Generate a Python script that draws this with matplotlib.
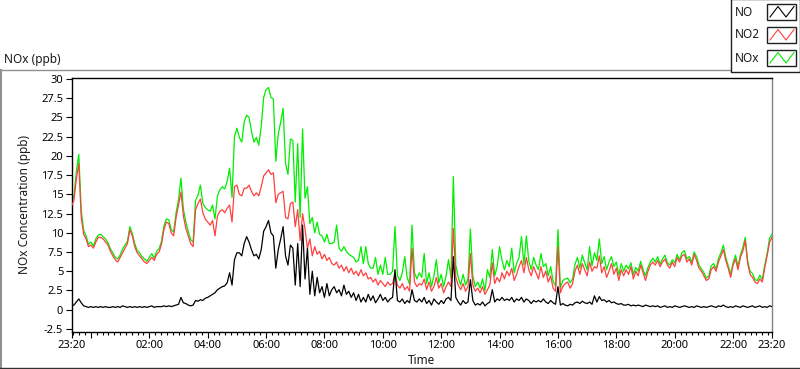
import numpy as np
import matplotlib
matplotlib.use("Agg")
import matplotlib.pyplot as plt
from matplotlib.lines import Line2D
from matplotlib.patches import Rectangle
from matplotlib.ticker import FixedLocator, FixedFormatter

plt.rcParams['font.family'] = ['Noto Sans', 'DejaVu Sans']

# ---------------- data (5-minute samples, starting 23:20) ----------------
step_min = 5
no_vals = [
    0.5, 0.6, 1.0, 1.4, 0.9, 0.5, 0.4, 0.3, 0.4, 0.3, 0.4, 0.3,
    0.4, 0.3, 0.4, 0.3, 0.3, 0.4, 0.3, 0.4, 0.3, 0.5, 0.4, 0.3,
    0.4, 0.3, 0.4, 0.3, 0.4, 0.3, 0.4, 0.3, 0.4, 0.5, 0.3, 0.4,
    0.4, 0.4, 0.5, 0.4, 0.5, 0.4, 0.5, 0.6, 0.7, 1.6, 0.9, 0.8,
    0.6, 0.5, 0.6, 1.2, 1.1, 1.3, 1.2, 1.5, 1.6, 1.8, 2.0, 2.2,
    2.6, 2.8, 3.0, 3.1, 3.5, 4.8, 3.2, 6.5, 7.4, 7.4, 7.0, 8.6,
    9.5, 8.8, 7.8, 7.0, 7.2, 6.6, 7.8, 10.2, 10.8, 11.6, 10.0, 9.6,
    5.4, 7.8, 9.2, 10.8, 7.0, 5.8, 8.4, 8.0, 3.2, 8.6, 3.0, 11.0,
    4.0, 8.0, 2.0, 5.0, 1.8, 4.2, 2.2, 3.0, 1.6, 3.4, 1.8, 2.6,
    3.0, 2.2, 2.6, 1.8, 3.2, 2.0, 2.4, 1.6, 2.2, 1.2, 2.0, 1.0,
    1.6, 1.0, 2.0, 1.2, 1.8, 0.9, 1.4, 2.0, 1.2, 1.6, 1.0, 1.4,
    1.6, 5.2, 1.2, 1.0, 1.4, 0.8, 1.2, 0.9, 2.6, 1.2, 1.0, 1.4,
    1.0, 1.6, 0.8, 1.2, 0.6, 1.4, 1.0, 0.7, 1.2, 0.8, 1.4, 1.6,
    1.2, 6.9, 1.6, 1.0, 0.6, 1.2, 0.8, 1.0, 3.9, 1.2, 0.6, 0.8,
    0.6, 1.0, 0.5, 0.8, 1.0, 2.6, 1.0, 1.4, 1.2, 1.6, 1.2, 1.4,
    1.2, 1.6, 1.0, 1.4, 1.2, 1.6, 1.0, 1.4, 1.2, 0.8, 1.2, 1.0,
    1.2, 1.0, 1.4, 1.0, 0.8, 1.2, 0.9, 0.7, 3.0, 0.6, 0.8, 0.6,
    0.5, 0.7, 0.6, 0.9, 1.0, 0.8, 1.1, 0.9, 0.8, 1.0, 0.7, 1.8,
    1.0, 1.7, 1.2, 1.3, 1.0, 1.2, 0.9, 1.0, 0.8, 0.7, 0.8, 0.6,
    0.6, 0.7, 0.5, 0.6, 0.5, 0.6, 0.5, 0.4, 0.6, 0.5, 0.4, 0.5,
    0.4, 0.5, 0.3, 0.4, 0.5, 0.3, 0.4, 0.3, 0.5, 0.4, 0.3, 0.4,
    0.5, 0.4, 0.3, 0.4, 0.3, 0.5, 0.4, 0.3, 0.4, 0.3, 0.4, 0.5,
    0.4, 0.3, 0.5, 0.4, 0.6, 0.4, 0.3, 0.4, 0.3, 0.5, 0.4, 0.3,
    0.5, 0.4, 0.3, 0.4, 0.5, 0.3, 0.4, 0.5, 0.3, 0.4, 0.3, 0.5,
    0.4,
]
no2_vals = [
    13.5, 14.2, 17.0, 19.0, 12.0, 9.8, 9.2, 8.2, 8.4, 8.0, 8.8, 9.4,
    9.4, 9.2, 8.8, 8.4, 7.6, 7.0, 6.5, 6.2, 6.8, 7.4, 8.0, 8.6,
    10.4, 9.6, 8.2, 7.4, 7.0, 6.6, 6.2, 6.0, 6.4, 6.8, 6.4, 7.2,
    7.5, 8.5, 10.4, 11.4, 11.2, 10.0, 9.6, 12.0, 13.6, 15.3, 12.2, 10.6,
    9.6, 8.6, 8.2, 13.0, 13.8, 14.4, 12.6, 11.8, 11.4, 11.0, 11.6, 9.6,
    12.2, 12.8, 13.0, 12.6, 13.2, 13.6, 11.4, 16.0, 16.2, 15.0, 14.8, 15.8,
    15.8, 16.2, 15.4, 14.8, 15.2, 14.8, 16.0, 17.4, 17.8, 18.2, 17.6, 17.8,
    13.9, 15.0, 15.2, 15.4, 12.0, 11.8, 13.8, 14.0, 10.8, 13.0, 9.0, 12.5,
    10.5, 8.0, 9.2, 7.0, 8.2, 7.2, 7.6, 6.6, 7.2, 6.4, 6.8, 6.0,
    5.8, 6.2, 5.4, 5.8, 5.0, 5.6, 4.8, 5.4, 4.6, 5.0, 4.4, 5.2,
    4.4, 4.8, 4.0, 4.2, 3.6, 4.0, 3.2, 3.8, 3.4, 3.0, 3.6, 3.2,
    3.4, 4.7, 3.2, 2.8, 3.4, 2.6, 3.0, 2.4, 8.0, 3.6, 3.0, 3.4,
    3.2, 4.0, 2.6, 3.6, 2.4, 3.0, 4.2, 2.8, 3.4, 2.2, 3.0, 3.6,
    3.0, 10.6, 4.2, 3.2, 2.6, 3.4, 2.4, 3.0, 7.3, 3.2, 2.4, 2.8,
    2.2, 3.0, 2.0, 2.6, 3.2, 6.1, 3.4, 4.2, 3.6, 4.8, 4.0, 5.0,
    4.4, 5.4, 3.8, 4.6, 5.6, 6.4, 4.8, 6.8, 5.2, 4.4, 5.6, 4.8,
    4.0, 5.6, 4.2, 5.0, 3.6, 4.4, 2.8, 2.4, 8.2, 2.2, 3.0, 3.4,
    3.6, 2.8, 3.4, 5.0, 5.8, 4.6, 6.0, 5.2, 4.4, 6.2, 5.0, 5.6,
    5.4, 7.0, 4.8, 5.6, 4.2, 5.0, 6.0, 4.6, 5.4, 3.8, 5.2, 4.4,
    5.2, 4.6, 5.6, 4.0, 5.0, 4.4, 5.8, 4.8, 3.8, 5.0, 5.8, 6.2,
    5.8, 6.4, 5.6, 6.2, 6.6, 5.8, 5.4, 6.2, 5.6, 6.8, 6.2, 7.0,
    7.2, 6.2, 6.6, 5.8, 7.2, 6.4, 5.4, 5.0, 4.4, 3.8, 4.0, 5.2,
    5.6, 5.0, 6.2, 7.0, 7.8, 6.4, 5.4, 4.2, 5.8, 6.6, 5.2, 6.8,
    7.6, 9.0, 6.0, 4.6, 4.2, 3.6, 3.4, 4.0, 3.6, 5.4, 7.0, 8.8,
    9.4,
]
nox_vals = [
    14.0, 14.8, 18.0, 20.2, 12.9, 10.3, 9.6, 8.5, 8.8, 8.3, 9.2, 9.7,
    9.8, 9.5, 9.2, 8.7, 7.9, 7.4, 6.8, 6.6, 7.1, 7.9, 8.4, 8.9,
    10.8, 9.9, 8.6, 7.7, 7.4, 6.9, 6.6, 6.3, 6.8, 7.3, 6.7, 7.6,
    7.9, 8.9, 10.9, 11.8, 11.7, 10.4, 10.1, 12.6, 14.3, 17.1, 13.1, 11.4,
    10.2, 9.1, 8.8, 14.2, 14.9, 16.2, 13.8, 13.3, 13.0, 12.8, 13.6, 11.8,
    14.8, 15.6, 16.0, 15.7, 16.7, 18.4, 14.6, 22.5, 23.6, 22.4, 21.8, 24.4,
    25.3, 25.0, 23.2, 21.8, 22.4, 21.4, 23.8, 27.6, 28.6, 28.9, 27.6, 27.4,
    19.3, 22.8, 24.4, 26.2, 19.0, 17.6, 22.2, 22.0, 14.0, 21.6, 12.0, 23.5,
    14.5, 16.0, 11.2, 12.0, 10.0, 11.4, 9.8, 9.6, 8.8, 9.8, 8.6, 8.6,
    8.8, 11.0, 8.0, 7.6, 8.2, 7.6, 7.2, 7.0, 6.8, 6.2, 6.4, 8.2,
    6.0, 8.2, 6.0, 5.4, 5.4, 6.8, 4.6, 5.8, 4.6, 6.8, 4.6, 4.6,
    5.0, 10.8, 4.4, 3.8, 4.8, 6.9, 4.2, 3.3, 11.0, 4.8, 4.0, 4.8,
    4.2, 7.3, 3.4, 4.8, 3.0, 4.4, 6.5, 3.5, 4.6, 3.0, 4.4, 6.5,
    4.2, 17.3, 5.8, 4.2, 3.2, 4.6, 3.2, 4.0, 10.5, 4.4, 3.0, 3.6,
    2.8, 4.0, 2.5, 5.2, 4.2, 7.8, 4.4, 5.6, 8.2, 6.4, 5.2, 6.4,
    5.6, 8.0, 4.8, 6.0, 6.8, 9.5, 5.8, 9.6, 6.4, 5.2, 6.8, 5.8,
    5.2, 7.3, 5.6, 6.0, 4.4, 5.6, 3.7, 3.1, 10.4, 2.8, 3.8, 4.0,
    4.1, 3.5, 4.0, 5.9, 6.8, 5.4, 7.1, 6.1, 5.2, 8.2, 5.7, 7.4,
    6.4, 9.2, 6.0, 6.9, 5.2, 6.2, 6.9, 5.6, 6.2, 4.5, 6.0, 5.0,
    5.8, 5.3, 6.1, 4.6, 5.5, 5.0, 6.3, 5.2, 4.4, 5.5, 6.2, 6.7,
    6.2, 6.9, 5.9, 6.6, 7.1, 6.1, 5.8, 6.5, 6.1, 7.2, 6.5, 7.4,
    7.7, 6.6, 6.9, 6.2, 7.5, 6.9, 5.8, 5.3, 4.8, 4.1, 4.4, 5.7,
    6.0, 5.3, 6.7, 7.4, 8.4, 6.8, 5.7, 4.6, 6.1, 7.1, 5.6, 7.1,
    8.1, 9.4, 6.3, 5.0, 4.7, 3.9, 3.8, 4.5, 3.9, 5.8, 7.3, 9.3,
    9.8,
]
series_names = ["NO", "NO2", "NOx"]
series_colors = ["#000000", "#ff4040", "#00ee00"]

# x-axis ticks (minutes after 23:20)
major_ticks = [0, 40, 160, 280, 400, 520, 640, 760, 880, 1000, 1120, 1240, 1360, 1440]
major_labels = ["23:20", "", "02:00", "04:00", "06:00", "08:00", "10:00", "12:00",
                "14:00", "16:00", "18:00", "20:00", "22:00", "23:20"]
y_ticks = [-2.5, 0, 2.5, 5, 7.5, 10, 12.5, 15, 17.5, 20, 22.5, 25, 27.5, 30]

# ---------------- figure ----------------
W, H = 800, 369
fig = plt.figure(figsize=(W / 100, H / 100), dpi=100)
fig.patch.set_facecolor("white")

def fx(px):
    return px / W

def fy(py):
    return 1 - py / H

L, R, T, B = 71.5, 772.0, 78.0, 331.5
ax = fig.add_axes([fx(L), fy(B), fx(R) - fx(L), fy(T) - fy(B)])

minutes = np.arange(len(no_vals)) * step_min
vals = [no_vals, no2_vals, nox_vals]
for k in [2, 1, 0]:
    ax.plot(minutes, vals[k], color=series_colors[k], lw=0.9,
            zorder=2 + (2 - k))

ax.set_xlim(0, 1440)
ax.set_ylim(30 - (B - 79) / 7.69, 30 + (79 - T) / 7.69)

ax.xaxis.set_major_locator(FixedLocator(major_ticks))
ax.xaxis.set_major_formatter(FixedFormatter(major_labels))
minor = [m for m in range(0, 1441) if (1400 + m) % 12 == 0 and m not in major_ticks]
ax.xaxis.set_minor_locator(FixedLocator(minor))
ax.set_yticks(y_ticks)
ax.set_yticklabels([f"{v:g}" for v in y_ticks])

ax.tick_params(axis="y", which="major", direction="out", length=4, width=0.8,
               pad=2, labelsize=8, colors="black")
ax.tick_params(axis="x", which="major", direction="out", length=4.5, width=0.8,
               pad=1.5, labelsize=8, colors="black")
ax.tick_params(axis="x", which="minor", direction="out", length=2.5, width=0.8)

for s in ["left", "top", "bottom"]:
    ax.spines[s].set_color("black")
    ax.spines[s].set_linewidth(1.0)
ax.spines["right"].set_color("#808080")
ax.spines["right"].set_linewidth(1.0)

ax.set_ylabel("NOx Concentration (ppb)", fontsize=8.5, color="#1a1a1a")
ax.yaxis.set_label_coords((31 - L) / (R - L), 0.5)
ax.set_xlabel("Time", fontsize=8.5, color="#1a1a1a", va="center")
ax.xaxis.set_label_coords(0.5, (B - 360) / (B - T))

# title
fig.text(fx(4), fy(60), "NOx (ppb)", fontsize=8.5, va="center", ha="left", color="#1a1a1a")

# outer frame
fig.add_artist(Line2D([fx(0), fx(730)], [fy(69.5), fy(69.5)], color="#909090", lw=1.0))
fig.add_artist(Line2D([fx(1), fx(1)], [fy(69.5), fy(367.5)], color="#909090", lw=1.5))
fig.add_artist(Line2D([fx(0), fx(800)], [fy(367.5), fy(367.5)], color="#303030", lw=1.0))

# legend
fig.add_artist(Rectangle((fx(730.5), fy(72)), fx(799.5) - fx(730.5), fy(-1) - fy(72),
                         transform=fig.transFigure, facecolor="white",
                         edgecolor="#202020", lw=1.0, zorder=5))
icon_tops = [4, 27, 50]
for name, col, top in zip(series_names, series_colors, icon_tops):
    fig.text(fx(735), fy(top + 8), name, fontsize=8.5, va="center", ha="left",
             color="#1a1a1a", zorder=6)
    x0, x1 = 767, 796
    y0, y1 = top, top + 15.5
    fig.add_artist(Rectangle((fx(x0), fy(y1)), fx(x1) - fx(x0), fy(y0) - fy(y1),
                             transform=fig.transFigure, facecolor="white",
                             edgecolor="#202020", lw=1.0, zorder=6))
    px = [x0 + 3, x0 + 11, x0 + 19, x0 + 27]
    py = [y1 - 2.5, y0 + 2.5, y1 - 2.5, y0 + 2.5]
    fig.add_artist(Line2D([fx(p) for p in px], [fy(p) for p in py], color=col,
                          lw=0.8, zorder=7))

fig.savefig("out.png", dpi=100)
